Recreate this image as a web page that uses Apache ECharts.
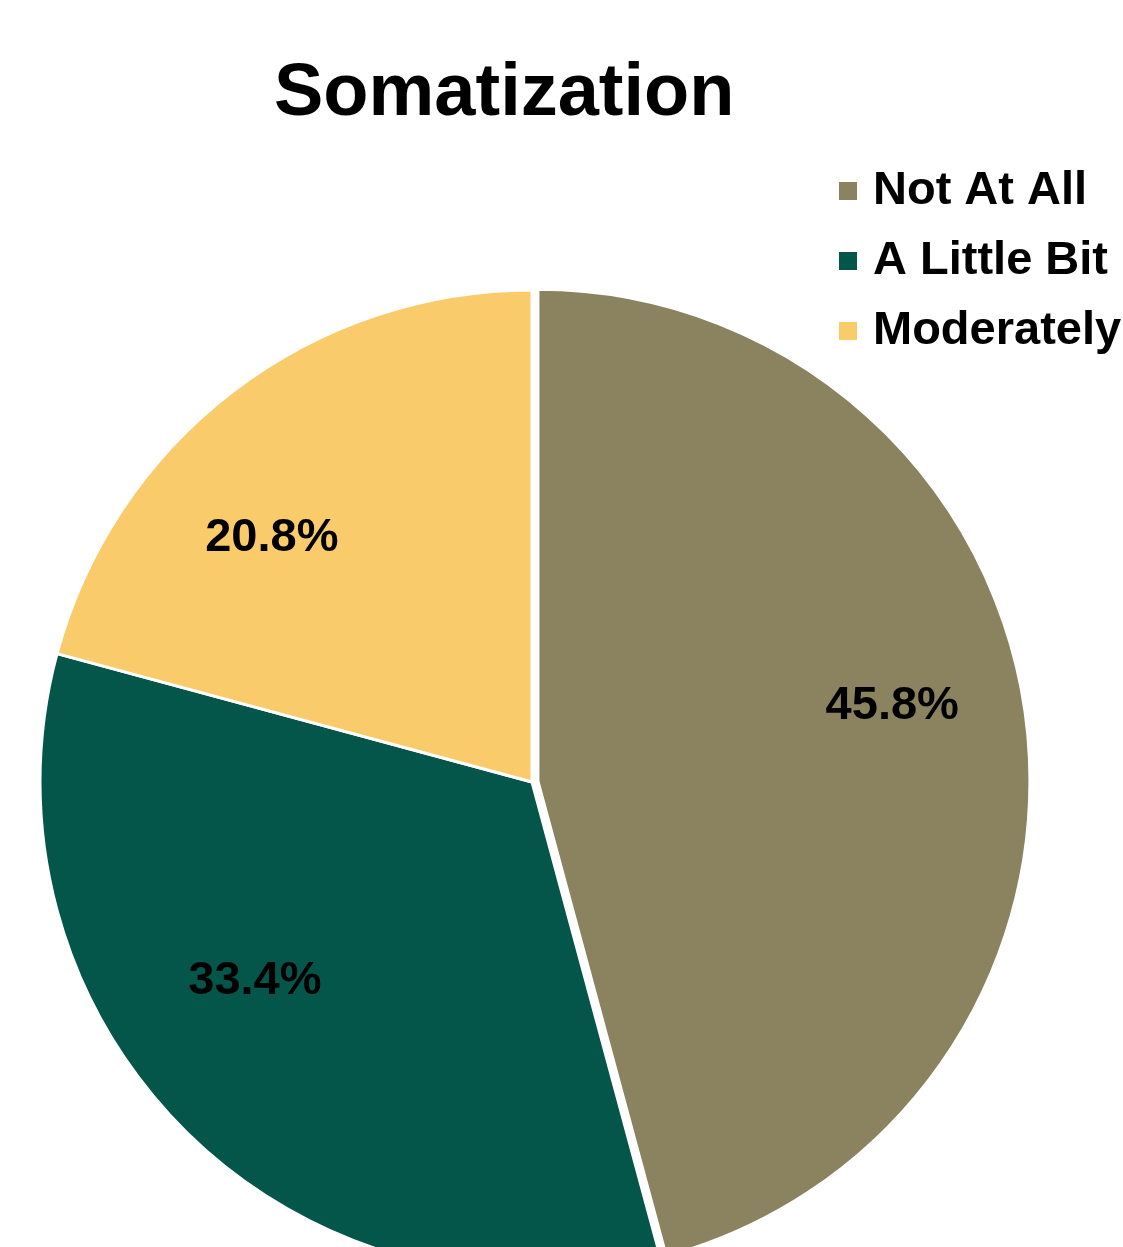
<!DOCTYPE html>
<html>
<head>
<meta charset="utf-8">
<title>Somatization</title>
<script src="https://cdn.jsdelivr.net/npm/echarts@6/dist/echarts.min.js"></script>
<style>
  html, body { margin: 0; padding: 0; background: #ffffff; }
  #chart { width: 1123px; height: 1247px; }
</style>
</head>
<body>
<div id="chart"></div>
<script>
// Response categories and their shares (percent)
const categories = ['Not At All', 'A Little Bit', 'Moderately'];
const shares = [45.8, 33.4, 20.8];
const sliceColors = ['#8b8260', '#04554a', '#facb6a'];

// Small shifts so each percentage sits where it reads best inside its slice
const labelNudges = [[11, -30], [-28, -50], [-46, 36]];

const FONT = '"Liberation Sans", Arial, Helvetica, sans-serif';
const CENTER = [532, 782];
const RADIUS = 492;

const chart = echarts.init(document.getElementById('chart'), null, { renderer: 'canvas' });

const sliceData = categories.map((name, i) => ({
  name: name,
  value: shares[i],
  selected: i === 0,
  itemStyle: { color: sliceColors[i] }
}));

const labelData = categories.map((name, i) => ({
  name: name,
  value: shares[i],
  label: { offset: labelNudges[i] }
}));

chart.setOption({
  backgroundColor: '#ffffff',
  animation: false,
  title: {
    text: 'Somatization',
    left: 269,
    top: 53,
    textStyle: {
      fontFamily: FONT,
      fontWeight: 'bold',
      fontSize: 74,
      color: '#000000'
    }
  },
  legend: {
    orient: 'vertical',
    left: 832,
    top: 161,
    itemWidth: 20,
    itemHeight: 20,
    itemGap: 20,
    icon: 'rect',
    selectedMode: false,
    data: categories.map((name, i) => ({ name: name, itemStyle: { color: sliceColors[i] } })),
    textStyle: {
      fontFamily: FONT,
      fontWeight: 'bold',
      fontSize: 47,
      lineHeight: 50,
      color: '#000000',
      padding: [0, 0, 0, 10]
    }
  },
  series: [
    {
      name: 'Somatization',
      type: 'pie',
      center: CENTER,
      radius: [0, RADIUS],
      startAngle: 90,
      clockwise: true,
      selectedMode: 'single',
      selectedOffset: 6,
      silent: true,
      label: { show: false },
      labelLine: { show: false },
      itemStyle: { borderColor: '#ffffff', borderWidth: 3 },
      emphasis: { disabled: true },
      select: { itemStyle: { borderColor: '#ffffff', borderWidth: 3 } },
      data: sliceData
    },
    {
      // invisible ring used only to carry the percentage labels further out
      name: 'labels',
      type: 'pie',
      center: CENTER,
      radius: [0, RADIUS * 1.42],
      startAngle: 90,
      clockwise: true,
      silent: true,
      z: 5,
      itemStyle: { color: 'rgba(0,0,0,0)', borderWidth: 0 },
      emphasis: { disabled: true },
      labelLine: { show: false },
      label: {
        show: true,
        position: 'inside',
        formatter: (p) => p.value.toFixed(1) + '%',
        fontFamily: FONT,
        fontWeight: 'bold',
        fontSize: 47,
        color: '#000000'
      },
      data: labelData
    }
  ]
});
</script>
</body>
</html>
